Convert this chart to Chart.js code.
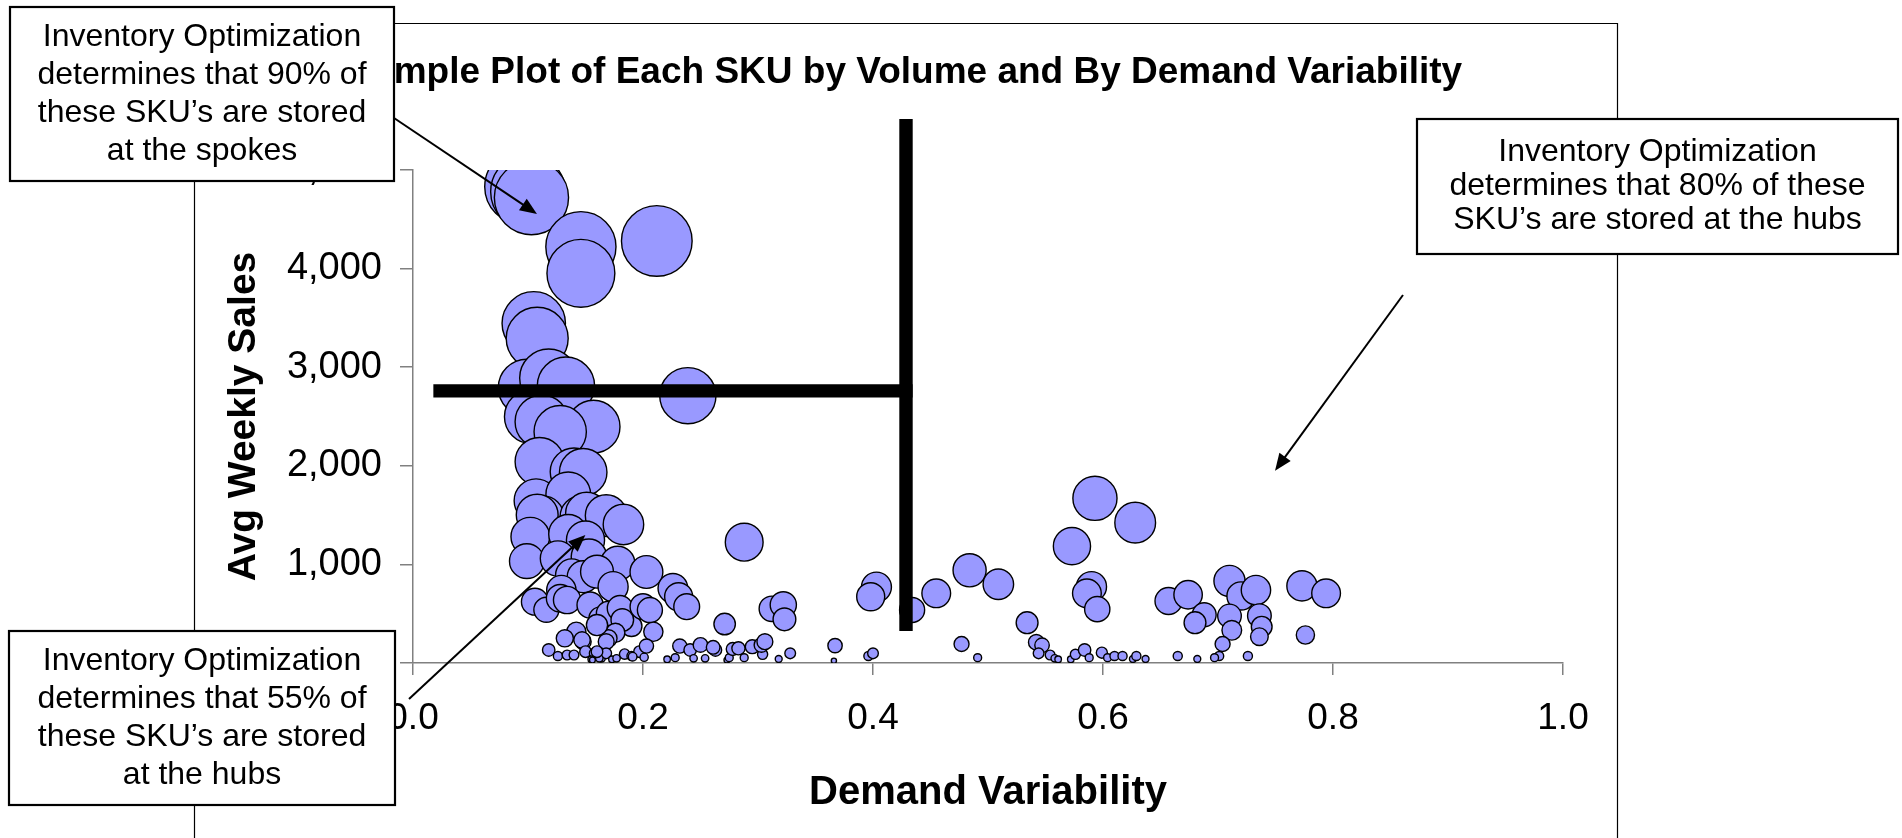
<!DOCTYPE html>
<html>
<head>
<meta charset="utf-8">
<script src="https://cdn.jsdelivr.net/npm/chart.js@4.4.1/dist/chart.umd.min.js"></script>
<style>
html,body{margin:0;padding:0;background:#fff;}
#wrap{width:1902px;height:838px;position:relative;}
</style>
</head>
<body>
<div id="wrap"><canvas id="c" width="1902" height="838"></canvas></div>
<script>
// ---------------- DATA ----------------
const chartTitle = 'Example Plot of Each SKU by Volume and By Demand Variability';
const xAxisTitle = 'Demand Variability';
const yAxisTitle = 'Avg Weekly Sales';

const demandVariability = [
  0.095,0.100,0.103,0.146,0.146,0.212,0.105,0.108,0.239,0.099,0.118,0.133,0.157,0.103,0.112,0.128,
  0.110,0.140,0.148,0.107,0.135,0.113,0.108,0.146,0.151,0.168,0.183,0.102,0.135,0.150,0.099,0.126,
  0.153,0.178,0.203,0.138,0.148,0.160,0.174,0.129,0.106,0.116,0.128,0.134,0.154,0.163,0.170,0.180,
  0.190,0.182,0.176,0.170,0.200,0.206,0.209,0.226,0.231,0.238,0.142,0.148,0.132,0.160,0.168,0.147,
  0.118,0.126,0.134,0.140,0.150,0.158,0.155,0.164,0.168,0.173,0.177,0.184,0.190,0.197,0.201,0.203,
  0.221,0.228,0.232,0.241,0.244,0.250,0.254,0.263,0.261,0.273,0.275,0.278,0.283,0.288,0.295,0.304,
  0.303,0.306,0.318,0.328,0.367,0.366,0.396,0.400,0.477,0.491,0.156,0.162,0.160,0.191,
  0.271,0.288,0.312,0.322,0.323,0.403,0.398,0.434,0.455,0.484,0.509,0.534,0.542,0.547,0.544,0.554,
  0.558,0.561,0.572,0.576,0.584,0.588,0.599,0.604,0.610,0.617,0.626,0.629,0.637,0.665,0.682,0.573,
  0.593,0.628,0.590,0.586,0.595,0.657,0.674,0.688,0.680,0.710,0.720,0.733,0.710,0.712,0.704,0.701,
  0.697,0.736,0.738,0.736,0.726,0.773,0.794,0.776
];
const avgWeeklySales = [
  4830,4780,4720,4222,3952,4280,3445,3293,2711,2792,2890,2813,2397,2498,2447,2346,
  2040,1940,1935,1645,1710,1484,1500,1484,1518,1495,1405,1281,1308,1247,1033,1060,
  1078,1010,923,892,875,926,774,740,622,540,656,639,588,453,504,555,
  375,436,307,250,571,537,317,757,672,571,317,216,250,385,216,233,
  132,71,81,81,115,98,37,47,98,37,47,91,71,115,58,172,
  37,54,172,132,47,183,47,132,159,30,54,142,149,54,165,88,
  183,216,41,98,176,23,71,98,193,54,30,47,115,64,
  395,1225,550,590,443,770,672,538,707,940,798,409,210,180,98,81,
  47,37,37,88,132,54,105,54,71,71,41,71,41,71,41,1185,
  1670,1423,774,707,546,629,692,490,409,832,680,740,477,332,193,71,
  54,480,368,267,71,782,707,284
];
// bubble size series (volume) = weekly sales
const bubbleVolume = avgWeeklySales;

// thick divider lines (data coordinates)
const dividerHX = [0.0177, 0.4344];
const dividerHY = [2760, 2760];
const dividerVX = [0.4287, 0.4287];
const dividerVY = [5517, 325];

const xTickStep = 0.2;
const yTickStep = 1000;

const noteSpokes = ['Inventory Optimization','determines that 90% of','these SKU\u2019s are stored','at the spokes'];
const noteHubs80 = ['Inventory Optimization','determines that 80% of these','SKU\u2019s are stored at the hubs'];
const noteHubs55 = ['Inventory Optimization','determines that 55% of','these SKU\u2019s are stored','at the hubs'];
// arrow targets in data coordinates
const arrowSpokesTip = [0.1078, 4554];
const arrowHubs80Tip = [0.7496, 1950];
const arrowHubs55Tip = [0.1499, 1298];

// ---------------- CHART ----------------
const FONT = "'Liberation Sans', Arial, Helvetica, sans-serif";
const sizeToRadius = v => 0.54 * Math.sqrt(v);

const bubbles = demandVariability.map((x, i) => ({ x: x, y: avgWeeklySales[i], r: sizeToRadius(bubbleVolume[i]) }));
const hLine = dividerHX.map((x, i) => ({ x: x, y: dividerHY[i] }));
const vLine = dividerVX.map((x, i) => ({ x: x, y: dividerVY[i] }));

function drawBox(ctx, x0, y0, x1, y1, lines, lineGap) {
  ctx.save();
  ctx.fillStyle = '#fff';
  ctx.fillRect(x0, y0, x1 - x0, y1 - y0);
  ctx.strokeStyle = '#000';
  ctx.lineWidth = 2.2;
  ctx.strokeRect(x0, y0, x1 - x0, y1 - y0);
  ctx.fillStyle = '#000';
  ctx.font = '32px ' + FONT;
  ctx.textAlign = 'center';
  ctx.textBaseline = 'middle';
  const cx = (x0 + x1) / 2, cy = (y0 + y1) / 2;
  const n = lines.length;
  lines.forEach((t, i) => ctx.fillText(t, cx, cy + (i - (n - 1) / 2) * lineGap));
  ctx.restore();
}

function drawArrow(ctx, x0, y0, x1, y1) {
  const ang = Math.atan2(y1 - y0, x1 - x0);
  const L = 17, W = 7;
  ctx.save();
  ctx.strokeStyle = '#000';
  ctx.fillStyle = '#000';
  ctx.lineWidth = 2;
  ctx.beginPath();
  ctx.moveTo(x0, y0);
  ctx.lineTo(x1 - Math.cos(ang) * (L - 2), y1 - Math.sin(ang) * (L - 2));
  ctx.stroke();
  ctx.beginPath();
  ctx.moveTo(x1, y1);
  ctx.lineTo(x1 - Math.cos(ang) * L + Math.sin(ang) * W, y1 - Math.sin(ang) * L - Math.cos(ang) * W);
  ctx.lineTo(x1 - Math.cos(ang) * L - Math.sin(ang) * W, y1 - Math.sin(ang) * L + Math.cos(ang) * W);
  ctx.closePath();
  ctx.fill();
  ctx.restore();
}

const decor = {
  id: 'decor',
  beforeDraw(chart) {
    const ctx = chart.ctx;
    ctx.save();
    ctx.fillStyle = '#fff';
    ctx.fillRect(0, 0, chart.width, chart.height);
    ctx.strokeStyle = '#000';
    ctx.lineWidth = 1.2;
    ctx.beginPath();
    ctx.moveTo(194.5, 840); ctx.lineTo(194.5, 23.5); ctx.lineTo(1617.5, 23.5); ctx.lineTo(1617.5, 840);
    ctx.stroke();
    ctx.restore();
  },
  afterDraw(chart) {
    const ctx = chart.ctx;
    const xs = chart.scales.x, ys = chart.scales.y;
    const px = p => [xs.getPixelForValue(p[0]), ys.getPixelForValue(p[1])];
    let t = px(arrowSpokesTip);
    drawArrow(ctx, 394, 118, t[0], t[1]);
    t = px(arrowHubs80Tip);
    drawArrow(ctx, 1403, 295, t[0], t[1]);
    t = px(arrowHubs55Tip);
    drawArrow(ctx, 409, 699, t[0], t[1]);
    drawBox(ctx, 10, 7, 394, 181, noteSpokes, 38);
    drawBox(ctx, 1417, 119, 1898, 254, noteHubs80, 34);
    drawBox(ctx, 9, 631, 395, 805, noteHubs55, 38);
  }
};

new Chart(document.getElementById('c').getContext('2d'), {
  type: 'bubble',
  data: {
    datasets: [
      { type: 'line', data: hLine, borderColor: '#000', borderWidth: 13.4, pointRadius: 0,
        borderCapStyle: 'butt', fill: false, clip: false, order: 0, tension: 0 },
      { type: 'line', data: vLine, borderColor: '#000', borderWidth: 13.4, pointRadius: 0,
        borderCapStyle: 'butt', fill: false, clip: false, order: 0, tension: 0 },
      { type: 'bubble', data: bubbles, backgroundColor: '#9999FF', borderColor: '#000',
        borderWidth: 1.4, hoverRadius: 0, clip: 0, order: 1 }
    ]
  },
  options: {
    responsive: false,
    animation: false,
    events: [],
    layout: { padding: { left: 227, right: 339, top: 0, bottom: 0 } },
    plugins: {
      legend: { display: false },
      tooltip: { enabled: false },
      title: {
        display: true, text: chartTitle, color: '#000',
        font: { family: FONT, size: 37, weight: 'bold', lineHeight: 1.2 },
        padding: { top: 50.8, bottom: 74.8 }
      }
    },
    scales: {
      x: {
        type: 'linear', min: 0, max: 1,
        afterFit(s) { s.height = 175; },
        ticks: { stepSize: xTickStep, callback: v => Number(v).toFixed(1), color: '#000',
                 font: { family: FONT, size: 37 }, padding: 22, maxRotation: 0, autoSkip: false },
        grid: { drawOnChartArea: false, drawTicks: true, tickLength: 12, color: '#808080', lineWidth: 1.5 },
        border: { color: '#808080', width: 1.5 },
        title: { display: true, text: xAxisTitle, color: '#000',
                 font: { family: FONT, size: 40, weight: 'bold', lineHeight: 1.2 },
                 padding: { top: 0, bottom: 21 } }
      },
      y: {
        type: 'linear', min: 0, max: 5000,
        afterFit(s) { s.width = 186; },
        ticks: { stepSize: yTickStep, callback: v => Number(v).toLocaleString('en-US'), color: '#000',
                 font: { family: FONT, size: 38 }, padding: 18 },
        grid: { drawOnChartArea: false, drawTicks: true, tickLength: 13, color: '#808080', lineWidth: 1.5 },
        border: { color: '#808080', width: 1.5 },
        title: { display: true, text: yAxisTitle, color: '#000',
                 font: { family: FONT, size: 39, weight: 'bold', lineHeight: 1.2 },
                 padding: { top: -6, bottom: 0 } }
      }
    }
  },
  plugins: [decor]
});
</script>
</body>
</html>
